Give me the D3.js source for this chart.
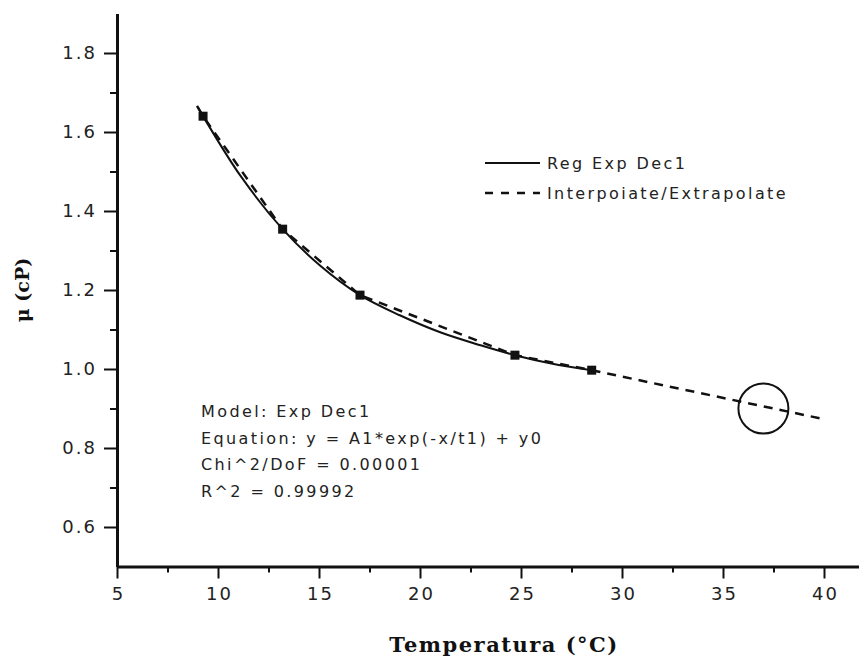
<!DOCTYPE html>
<html>
<head>
	<meta charset="UTF-8">
	<title>Viscosidad vs temperatura</title>
	<script src="https://cdn.jsdelivr.net/npm/d3@7"></script>
	<style>
		body { margin: 0; background: #fff; }
		svg { display: block; }
		.axis path, .axis line { stroke: #111; }
		.axis text { font-family: "DejaVu Sans", sans-serif; font-size: 18px; fill: #222; letter-spacing: 2px; }
		.note { font-family: "DejaVu Sans", sans-serif; font-size: 16px; fill: #222; letter-spacing: 2.4px; }
		.title { font-family: "DejaVu Serif", serif; font-weight: bold; fill: #111; }
	</style>
</head>
<body>
	<svg id="chart" width="859" height="659"></svg>
	<script>
		// measured points (T, mu)
		const tempPts = [9.26, 13.2, 17.03, 24.7, 28.5];
		const muPts = [1.64, 1.354, 1.187, 1.035, 0.997];

		// fitted curve
		const fitT = [9.0, 9.26, 11.1, 13.2, 15.05, 17.03, 19.0, 21.0, 23.0, 24.7, 26.5, 28.5];
		const fitMu = [1.663, 1.64, 1.49, 1.354, 1.262, 1.187, 1.136, 1.093, 1.06, 1.035, 1.014, 0.997];

		// interpolate / extrapolate line
		const extT = [8.96, 9.26, 13.2, 17.03, 24.7, 28.5, 40];
		const extMu = [1.666, 1.64, 1.354, 1.187, 1.035, 0.997, 0.873];

		// circled estimate
		const markT = 37;
		const markMu = 0.90;

		const xTicks = [5, 10, 15, 20, 25, 30, 35, 40];
		const xMinor = [7.5, 12.5, 17.5, 22.5, 27.5, 32.5, 37.5];
		const yTicks = [0.6, 0.8, 1.0, 1.2, 1.4, 1.6, 1.8];
		const yMinor = [0.7, 0.9, 1.1, 1.3, 1.5, 1.7];

		const noteLines = [
			'Model: Exp Dec1',
			'Equation: y = A1*exp(-x/t1) + y0',
			'Chi^2/DoF = 0.00001',
			'R^2 = 0.99992'
		];

		const svg = d3.select('#chart');
		const x = d3.scaleLinear().domain([5, 42]).range([117, 864.4]);
		const y = d3.scaleLinear().domain([0.5, 1.9]).range([566.5, 13.5]);

		// axes: minor ticks first, then major ticks with labels
		const gx = svg.append('g').attr('class', 'axis').attr('transform', `translate(0,${y(0.5)})`);
		gx.call(d3.axisBottom(x).tickValues(xMinor).tickSize(6).tickFormat(''));
		gx.call(g => g.select('.domain').remove());
		gx.selectAll('line').attr('stroke-width', 2);
		const gx2 = svg.append('g').attr('class', 'axis').attr('transform', `translate(0,${y(0.5)})`);
		gx2.call(d3.axisBottom(x).tickValues(xTicks).tickSize(12).tickSizeOuter(0).tickPadding(9).tickFormat(d3.format('d')));
		gx2.selectAll('line').attr('stroke-width', 2);
		gx2.select('.domain').attr('stroke-width', 3);
		gx2.selectAll('text').attr('dx', 1);

		const gy = svg.append('g').attr('class', 'axis').attr('transform', `translate(${x(5)},0)`);
		gy.call(d3.axisLeft(y).tickValues(yMinor).tickSize(7).tickFormat(''));
		gy.call(g => g.select('.domain').remove());
		gy.selectAll('line').attr('stroke-width', 2);
		const gy2 = svg.append('g').attr('class', 'axis').attr('transform', `translate(${x(5)},0)`);
		gy2.call(d3.axisLeft(y).tickValues(yTicks).tickSize(13).tickSizeOuter(0).tickPadding(7).tickFormat(d3.format('.1f')));
		gy2.selectAll('line').attr('stroke-width', 2);
		gy2.select('.domain').attr('stroke-width', 3);

		// lines
		const fitData = fitT.map((t, i) => [t, fitMu[i]]);
		const extData = extT.map((t, i) => [t, extMu[i]]);

		svg.append('path')
			.datum(fitData)
			.attr('fill', 'none')
			.attr('stroke', '#111')
			.attr('stroke-width', 2)
			.attr('d', d3.line().x(d => x(d[0])).y(d => y(d[1])).curve(d3.curveCatmullRom.alpha(0.5)));

		svg.append('path')
			.datum(extData)
			.attr('fill', 'none')
			.attr('stroke', '#111')
			.attr('stroke-width', 2.5)
			.attr('stroke-dasharray', '9,7')
			.attr('d', d3.line().x(d => x(d[0])).y(d => y(d[1])));

		svg.selectAll('.pt')
			.data(tempPts.map((t, i) => [t, muPts[i]]))
			.enter().append('rect')
			.attr('class', 'pt')
			.attr('x', d => x(d[0]) - 4.5)
			.attr('y', d => y(d[1]) - 4.5)
			.attr('width', 9)
			.attr('height', 9)
			.attr('fill', '#111');

		svg.append('circle')
			.attr('cx', x(markT))
			.attr('cy', y(markMu))
			.attr('r', 25)
			.attr('fill', 'none')
			.attr('stroke', '#111')
			.attr('stroke-width', 2);

		// legend
		const lg = svg.append('g').attr('transform', 'translate(485,163)');
		lg.append('line').attr('x1', 0).attr('x2', 55).attr('y1', 0).attr('y2', 0)
			.attr('stroke', '#111').attr('stroke-width', 2);
		lg.append('text').attr('class', 'note').attr('x', 62).attr('y', 6).text('Reg Exp Dec1');
		lg.append('line').attr('x1', 0).attr('x2', 55).attr('y1', 30).attr('y2', 30)
			.attr('stroke', '#111').attr('stroke-width', 2.5).attr('stroke-dasharray', '8,8');
		lg.append('text').attr('class', 'note').attr('x', 62).attr('y', 36).text('Interpoiate/Extrapolate');

		// model notes
		svg.append('g').selectAll('text')
			.data(noteLines)
			.enter().append('text')
			.attr('class', 'note')
			.attr('x', 201)
			.attr('y', (d, i) => 417 + i * 26.5)
			.text(d => d);

		// axis titles
		svg.append('text')
			.attr('class', 'title')
			.attr('x', 504)
			.attr('y', 652)
			.attr('text-anchor', 'middle')
			.attr('font-size', 21)
			.attr('letter-spacing', 1.5)
			.text('Temperatura (\u00B0C)');

		svg.append('text')
			.attr('class', 'title')
			.attr('transform', 'translate(29,290) rotate(-90)')
			.attr('text-anchor', 'middle')
			.attr('font-size', 19)
			.text('\u03BC (cP)');
	</script>
</body>
</html>
